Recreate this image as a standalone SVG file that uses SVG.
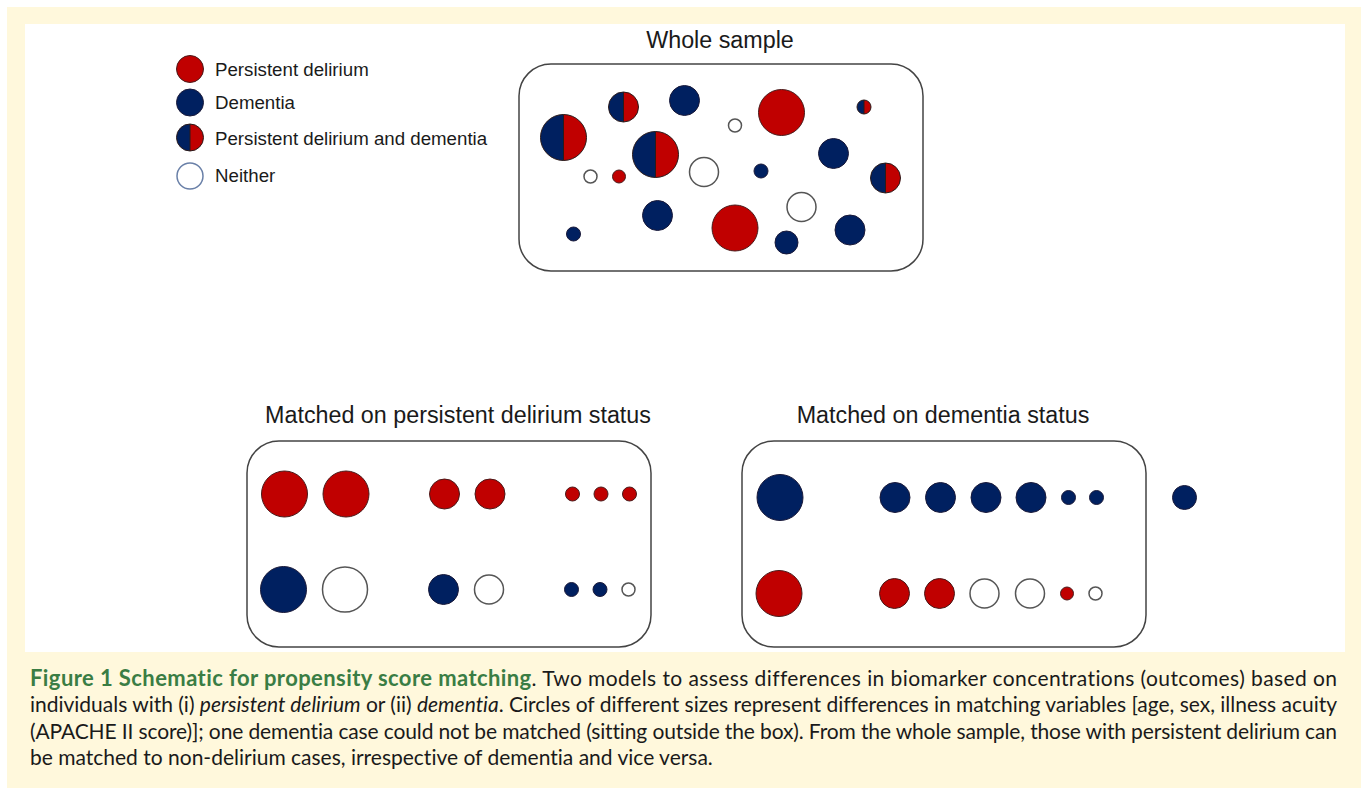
<svg xmlns="http://www.w3.org/2000/svg" width="1361" height="794" viewBox="0 0 1361 794">
<style>
.r{fill:#c00000;stroke:#4a1a1a;stroke-width:1}
.b{fill:#002060;stroke:#1a1a3a;stroke-width:1}
.w{fill:#ffffff;stroke:#555555;stroke-width:1.5}
.ol{fill:none;stroke:#2a1a1a;stroke-width:1}
.hl{fill:#002060}
.hr{fill:#c00000}
.box{fill:#ffffff;stroke:#444444;stroke-width:1.5}
.lg{font-family:"Liberation Sans",Arial,sans-serif;font-size:18.7px;fill:#1a1a1a}
.tt{font-family:"Liberation Sans",Arial,sans-serif;font-size:23.3px;fill:#1a1a1a}
.cap{font-family:Lato,"Open Sans",sans-serif;font-size:21px;fill:#1a1a1a;font-variant-ligatures:none}
.capb{font-weight:bold;fill:#3a7d44;font-size:22px}
</style>
<rect x="7" y="7" width="1354" height="781" fill="#fff8dc"/>
<rect x="25" y="24" width="1320" height="628" fill="#ffffff"/>

<g id="legend">
<circle class="r" cx="190" cy="69" r="13.5"/>
<text class="lg" x="215" y="76">Persistent delirium</text>
<circle class="b" cx="190" cy="102.5" r="13.5"/>
<text class="lg" x="215" y="109">Dementia</text>
<path class="hl" d="M190,124 A13.5,13.5 0 0 0 190,151 Z"/>
<path class="hr" d="M190,124 A13.5,13.5 0 0 1 190,151 Z"/>
<circle class="ol" cx="190" cy="137.5" r="13.5"/>
<line x1="190" y1="124" x2="190" y2="151" stroke="#2a1a1a" stroke-width="1"/>
<text class="lg" x="215" y="145">Persistent delirium and dementia</text>
<circle cx="190" cy="176" r="13" fill="#ffffff" stroke="#6a80a8" stroke-width="1.5"/>
<text class="lg" x="215" y="182">Neither</text>
</g>

<g id="whole-sample">
<text class="tt" x="720" y="48" text-anchor="middle">Whole sample</text>
<rect class="box" x="519" y="64" width="404" height="207" rx="32" ry="32"/>
<path class="hl" d="M563.5,114.5 A23,23 0 0 0 563.5,160.5 Z"/><path class="hr" d="M563.5,114.5 A23,23 0 0 1 563.5,160.5 Z"/><circle class="ol" cx="563.5" cy="137.5" r="23"/><line x1="563.5" y1="114.5" x2="563.5" y2="160.5" stroke="#2a1a1a"/>
<path class="hl" d="M623.5,92 A15,15 0 0 0 623.5,122 Z"/><path class="hr" d="M623.5,92 A15,15 0 0 1 623.5,122 Z"/><circle class="ol" cx="623.5" cy="107" r="15"/><line x1="623.5" y1="92" x2="623.5" y2="122" stroke="#2a1a1a"/>
<path class="hl" d="M655.5,131.5 A23,23 0 0 0 655.5,177.5 Z"/><path class="hr" d="M655.5,131.5 A23,23 0 0 1 655.5,177.5 Z"/><circle class="ol" cx="655.5" cy="154.5" r="23"/><line x1="655.5" y1="131.5" x2="655.5" y2="177.5" stroke="#2a1a1a"/>
<path class="hl" d="M864,100 A7,7 0 0 0 864,114 Z"/><path class="hr" d="M864,100 A7,7 0 0 1 864,114 Z"/><circle class="ol" cx="864" cy="107" r="7"/><line x1="864" y1="100" x2="864" y2="114" stroke="#2a1a1a"/>
<path class="hl" d="M885.5,163 A15,15 0 0 0 885.5,193 Z"/><path class="hr" d="M885.5,163 A15,15 0 0 1 885.5,193 Z"/><circle class="ol" cx="885.5" cy="178" r="15"/><line x1="885.5" y1="163" x2="885.5" y2="193" stroke="#2a1a1a"/>
<circle class="b" cx="684.5" cy="100.5" r="15"/>
<circle class="w" cx="735" cy="125.5" r="6.5"/>
<circle class="r" cx="781.5" cy="112.5" r="23"/>
<circle class="w" cx="590.5" cy="176.5" r="6.5"/>
<circle class="r" cx="619" cy="176.5" r="6.5"/>
<circle class="w" cx="704" cy="172" r="14.5"/>
<circle class="b" cx="761" cy="171" r="7"/>
<circle class="b" cx="833.5" cy="153.5" r="15"/>
<circle class="b" cx="657.5" cy="215.5" r="15"/>
<circle class="r" cx="735" cy="228" r="23"/>
<circle class="w" cx="801.5" cy="207" r="14.5"/>
<circle class="b" cx="850" cy="230" r="15"/>
<circle class="b" cx="573.5" cy="234" r="7"/>
<circle class="b" cx="786.5" cy="242.5" r="11.5"/>
</g>

<g id="matched-delirium">
<text class="tt" x="458" y="423" text-anchor="middle">Matched on persistent delirium status</text>
<rect class="box" x="247" y="441" width="404" height="206" rx="32" ry="32"/>
<circle class="r" cx="284.5" cy="494" r="23"/>
<circle class="r" cx="346" cy="494" r="23"/>
<circle class="r" cx="444.5" cy="494" r="15"/>
<circle class="r" cx="490" cy="494" r="15"/>
<circle class="r" cx="572.5" cy="494" r="7"/>
<circle class="r" cx="601" cy="494" r="7"/>
<circle class="r" cx="629.5" cy="494" r="7"/>
<circle class="b" cx="283.5" cy="589.5" r="23"/>
<circle class="w" cx="345" cy="589.5" r="22.5"/>
<circle class="b" cx="443.5" cy="589.5" r="15"/>
<circle class="w" cx="489" cy="589.5" r="14.5"/>
<circle class="b" cx="571.5" cy="589.5" r="7"/>
<circle class="b" cx="600" cy="589.5" r="7"/>
<circle class="w" cx="628.5" cy="589.5" r="6.5"/>
</g>

<g id="matched-dementia">
<text class="tt" x="943" y="423" text-anchor="middle">Matched on dementia status</text>
<rect class="box" x="742" y="441" width="404" height="206" rx="32" ry="32"/>
<circle class="b" cx="780" cy="497.5" r="23"/>
<circle class="b" cx="895" cy="497.5" r="15"/>
<circle class="b" cx="940.5" cy="497.5" r="15"/>
<circle class="b" cx="986" cy="497.5" r="15"/>
<circle class="b" cx="1031" cy="497.5" r="15"/>
<circle class="b" cx="1068.5" cy="497.5" r="7"/>
<circle class="b" cx="1096.5" cy="497.5" r="7"/>
<circle class="r" cx="779" cy="593.5" r="23"/>
<circle class="r" cx="894.5" cy="593.5" r="15"/>
<circle class="r" cx="939.5" cy="593.5" r="15"/>
<circle class="w" cx="984.5" cy="593.5" r="14.5"/>
<circle class="w" cx="1030" cy="593.5" r="14.5"/>
<circle class="r" cx="1067" cy="593.5" r="6.5"/>
<circle class="w" cx="1095.5" cy="593.5" r="6.5"/>
</g>

<g id="unmatched">
<circle class="b" cx="1184.5" cy="497.5" r="12"/>
</g>

<g id="caption">
<text class="cap" x="30" y="686" textLength="1307" lengthAdjust="spacing"><tspan class="capb">Figure 1 Schematic for propensity score matching</tspan>. Two models to assess differences in biomarker concentrations (outcomes) based on</text>
<text class="cap" x="30" y="712" textLength="1307" lengthAdjust="spacing">individuals with (i) <tspan font-style="italic">persistent delirium</tspan> or (ii) <tspan font-style="italic">dementia</tspan>. Circles of different sizes represent differences in matching variables [age, sex, illness acuity</text>
<text class="cap" x="30" y="739" textLength="1307" lengthAdjust="spacing">(APACHE II score)]; one dementia case could not be matched (sitting outside the box). From the whole sample, those with persistent delirium can</text>
<text class="cap" x="30" y="765">be matched to non-delirium cases, irrespective of dementia and vice versa.</text>
</g>
</svg>
